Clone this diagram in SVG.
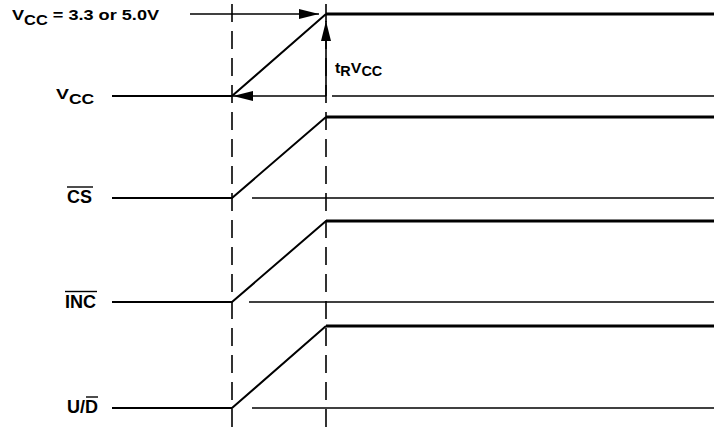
<svg xmlns="http://www.w3.org/2000/svg" width="714" height="429" viewBox="0 0 714 429">
<defs>
<style>
.sig{fill:none;stroke:#000;stroke-width:2;stroke-linejoin:miter}
.hi{fill:none;stroke:#000;stroke-width:3}
.thin{fill:none;stroke:#000;stroke-width:1.6}
.dash{fill:none;stroke:#000;stroke-width:1.6;stroke-dasharray:18 9}
.lbl{font-family:"Liberation Sans",Arial,sans-serif;font-weight:bold;font-size:15.5px;fill:#000}
.big{font-size:18px}
.sub{font-size:14px}
.ov{stroke:#000;stroke-width:1.4}
</style>
<marker id="ah" viewBox="0 0 20 10" refX="20" refY="5" markerWidth="20" markerHeight="10" markerUnits="userSpaceOnUse" orient="auto">
<path d="M0,0 L20,5 L0,10 Z" fill="#000"/>
</marker>
</defs>
<rect width="714" height="429" fill="#fff"/>
<g id="guides">
<line class="dash" x1="232" y1="4" x2="232" y2="429"/>
<line class="dash" x1="326" y1="4" x2="326" y2="429"/>
</g>
<g id="connectors">
<line class="thin" x1="190" y1="14" x2="319" y2="14" marker-end="url(#ah)"/>
<line class="thin" x1="326" y1="96" x2="326" y2="21" marker-end="url(#ah)"/>
<line class="thin" x1="326" y1="96" x2="233" y2="96" marker-end="url(#ah)"/>
</g>
<g id="vcc">
<polyline class="sig" points="112,96 232,96 326,14"/>
<line class="hi" x1="326" y1="14" x2="714" y2="14"/>
<line class="thin" x1="332" y1="96" x2="714" y2="96"/>
</g>
<g id="cs">
<polyline class="sig" points="112,198 232,198 326,117"/>
<line class="hi" x1="326" y1="117" x2="714" y2="117"/>
<line class="thin" x1="252" y1="198" x2="714" y2="198"/>
</g>
<g id="inc">
<polyline class="sig" points="112,302 232,302 326,221"/>
<line class="hi" x1="326" y1="221" x2="714" y2="221"/>
<line class="thin" x1="249" y1="302" x2="714" y2="302"/>
</g>
<g id="ud">
<polyline class="sig" points="112,408 232,408 326,326"/>
<line class="hi" x1="326" y1="326" x2="714" y2="326"/>
<line class="thin" x1="252" y1="408" x2="714" y2="408"/>
</g>
<g id="labels">
<text class="lbl" transform="translate(12,19.5) scale(1.17,1)" x="0" y="0">V<tspan class="sub" dy="5">CC</tspan><tspan dy="-5"> = 3.3 or 5.0V</tspan></text>
<text class="lbl" transform="translate(56,98.5) scale(1.25,1)" x="0" y="0">V<tspan class="sub" dy="5">CC</tspan></text>
<text class="lbl" transform="translate(335,73) scale(1.03,1)" x="0" y="0">t<tspan class="sub" dy="3">R</tspan><tspan dy="-3">V</tspan><tspan class="sub" dy="3">CC</tspan></text>
<text class="lbl big" x="67" y="203">CS</text>
<line class="ov" x1="67" y1="187" x2="93" y2="187"/>
<text class="lbl big" x="65" y="307.5">INC</text>
<line class="ov" x1="65" y1="291.5" x2="97" y2="291.5"/>
<text class="lbl big" x="67" y="413">U/D</text>
<line class="ov" x1="86" y1="397" x2="98" y2="397"/>
</g>
</svg>
